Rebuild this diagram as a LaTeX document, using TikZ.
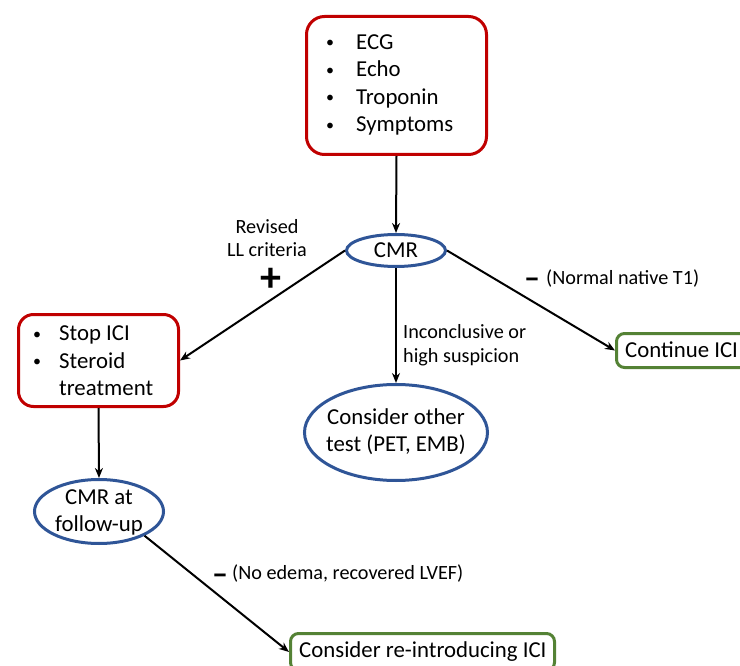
\documentclass[tikz,border=0pt]{standalone}
\usepackage{fontspec}
\setmainfont{Carlito}
\usetikzlibrary{arrows.meta,shapes.geometric}
\definecolor{boxred}{RGB}{192,0,0}
\definecolor{boxblue}{RGB}{47,85,151}
\definecolor{boxgreen}{RGB}{84,130,53}
\begin{document}
\begin{tikzpicture}[x=1pt,y=-1pt,
  redbox/.style={draw=boxred, line width=3pt, rounded corners=18pt, inner sep=0pt},
  greenbox/.style={draw=boxgreen, line width=3pt, rounded corners=8pt, inner sep=0pt},
  blueell/.style={draw=boxblue, line width=3pt, ellipse, inner sep=0pt},
  main/.style={font=\fontsize{22.8}{27}\selectfont, inner sep=0pt},
  bul/.style={font=\fontsize{16}{20}\selectfont, inner sep=0pt},
  lab/.style={font=\fontsize{20.2}{24}\selectfont, inner sep=0pt},
  sign/.style={font=\bfseries\fontsize{32}{32}\selectfont, inner sep=0pt},
  arr/.style={line width=2pt, -{Stealth[length=10pt,width=8pt]}}]
\useasboundingbox (0,0) rectangle (740,666);
% boxes and ellipses
\node[redbox, minimum width=180pt, minimum height=138pt] (top) at (396.5,85.5) {};
\node[redbox, rounded corners=15pt, minimum width=160pt, minimum height=92pt] (stop) at (98.5,360.5) {};
\node[greenbox, minimum width=132pt, minimum height=34pt] (cont) at (682.5,350.5) {};
\node[greenbox, minimum width=264pt, minimum height=37pt] (re) at (422.5,652) {};
\node[blueell, minimum width=99pt, minimum height=32pt] (cmr) at (396,250.5) {};
\node[blueell, minimum width=183pt, minimum height=96pt] (oth) at (396,432.5) {};
\node[blueell, minimum width=129pt, minimum height=64pt] (fu) at (99,511.5) {};
% top list
\node[bul, anchor=base] (tb1) at (330,48) {•};
\node[bul, anchor=base] (tb2) at (330,75.5) {•};
\node[bul, anchor=base] (tb3) at (330,103) {•};
\node[bul, anchor=base] (tb4) at (330,130.5) {•};
\node[main, anchor=base west] (tt1) at (356,49.5) {ECG};
\node[main, anchor=base west] (tt2) at (356,77) {Echo};
\node[main, anchor=base west] (tt3) at (356,104.5) {Troponin};
\node[main, anchor=base west] (tt4) at (356,132) {Symptoms};
% stop list
\node[bul, anchor=base] (sb1) at (37,339.5) {•};
\node[bul, anchor=base] (sb2) at (37,366.5) {•};
\node[main, anchor=base west] (st1) at (59,341) {Stop ICI};
\node[main, anchor=base west] (st2) at (59,368) {Steroid};
\node[main, anchor=base west] (st3) at (59,395.5) {treatment};
% ellipse texts
\node[main, anchor=base] (cmrt) at (396,257.5) {CMR};
\node[main, anchor=base] (otht1) at (396,424) {Consider other};
\node[main, anchor=base] (otht2) at (396,451) {test (PET, EMB)};
\node[main, anchor=base] (fut1) at (99,504.5) {CMR at};
\node[main, anchor=base] (fut2) at (99,531.5) {follow-up};
\node[main, anchor=base west] (contt) at (625,357) {Continue ICI};
\node[main, anchor=base west] (ret) at (299,657) {Consider re-introducing ICI};
% labels
\node[lab, anchor=base] (l1) at (267,234) {Revised};
\node[lab, anchor=base] (l2) at (267,256.5) {LL criteria};
\node[sign, font=\bfseries\fontsize{42}{42}\selectfont] (plus) at (271,279.5) {+};
\node[sign, anchor=base] (m1) at (532,289) {–};
\node[lab, anchor=base west] (l3) at (546,285) {(Normal native T1)};
\node[lab, anchor=base west] (l4) at (403,338) {Inconclusive or};
\node[lab, anchor=base west] (l5) at (403,362) {high suspicion};
\node[sign, anchor=base] (m2) at (220,584) {–};
\node[lab, anchor=base west] (l6) at (232,579) {(No edema, recovered LVEF)};
% arrows
\draw[arr] (top.south) -- (cmr.north);
\draw[arr] (cmr.west) -- (stop.east);
\draw[arr] (cmr.east) -- (cont.west);
\draw[arr] (cmr.south) -- (oth.north);
\draw[arr] (stop.south) -- (fu.north);
\draw[arr] (fu.-28) -- (re.west);
\end{tikzpicture}
\end{document}
